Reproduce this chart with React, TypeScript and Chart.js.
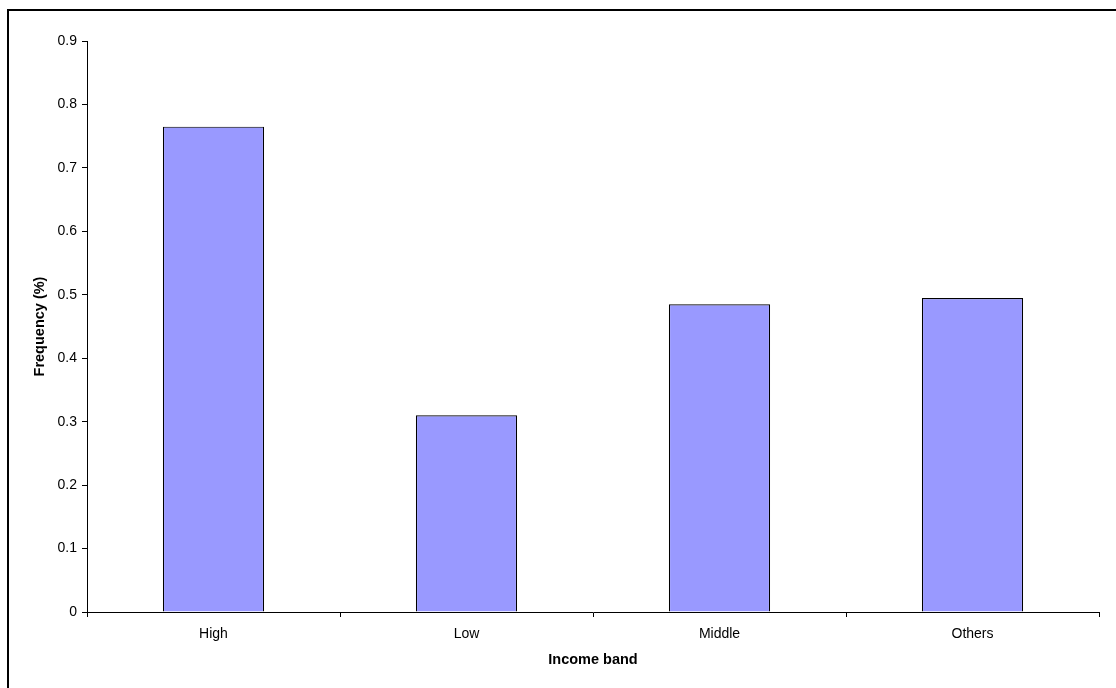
import React, { useEffect, useRef } from "react";
import { Chart, registerables } from "chart.js";

Chart.register(...registerables);

const categories = ["High", "Low", "Middle", "Others"];
const frequency = [0.765, 0.31, 0.485, 0.495];
const yMin = 0;
const yMax = 0.9;
const yStep = 0.1;
const xTitle = "Income band";
const yTitle = "Frequency (%)";

const framePlugin = {
  id: "frame",
  afterDraw(chart: any) {
    const ctx = chart.ctx;
    ctx.save();
    ctx.fillStyle = "#000";
    ctx.fillRect(7, 9, 1109, 2);
    ctx.fillRect(7, 9, 2, 679);
    ctx.restore();
  },
};

export default function App() {
  const ref = useRef<HTMLCanvasElement | null>(null);
  useEffect(() => {
    document.body.style.margin = "0";
    const font = { family: "'Liberation Sans', Arial, sans-serif", size: 14 };
    const titleFont = { family: "'Liberation Sans', Arial, sans-serif", size: 14.5, weight: "bold" };
    const chart = new Chart(ref.current as HTMLCanvasElement, {
      type: "bar",
      data: {
        labels: categories,
        datasets: [
          {
            data: frequency,
            backgroundColor: "#9999FF",
            borderColor: "#000000",
            borderWidth: 1.2,
            barPercentage: 0.4,
            categoryPercentage: 1.0,
          },
        ],
      },
      options: {
        animation: false,
        responsive: false,
        maintainAspectRatio: false,
        layout: { padding: { left: 0, top: 41, right: 17, bottom: 0 } },
        plugins: { legend: { display: false }, tooltip: { enabled: false } },
        scales: {
          x: {
            grid: { drawOnChartArea: false, color: "#000", tickLength: 5, offset: true },
            border: { color: "#000", width: 1 },
            ticks: { color: "#000", font, padding: 9, maxRotation: 0 },
            title: {
              display: true,
              text: xTitle,
              color: "#000",
              font: titleFont,
              padding: { top: 0, bottom: 19 },
            },
            afterFit(scale: any) {
              scale.height = 76;
            },
          },
          y: {
            min: yMin,
            max: yMax,
            grid: { drawOnChartArea: false, color: "#000", tickLength: 5 },
            border: { color: "#000", width: 1 },
            ticks: {
              stepSize: yStep,
              color: "#000",
              font,
              padding: 5,
              callback: (v: any) => String(Number(Number(v).toFixed(1))),
            },
            title: {
              display: true,
              text: yTitle,
              color: "#000",
              font: titleFont,
              padding: { top: 31, bottom: 0 },
            },
            afterFit(scale: any) {
              scale.width = 87;
            },
          },
        },
      },
      plugins: [framePlugin],
    } as any);
    return () => chart.destroy();
  }, []);
  return (
    <div style={{ position: "absolute", left: 0, top: 0, width: 1116, height: 688, background: "#fff" }}>
      <canvas ref={ref} width={1116} height={688} style={{ display: "block" }} />
    </div>
  );
}
